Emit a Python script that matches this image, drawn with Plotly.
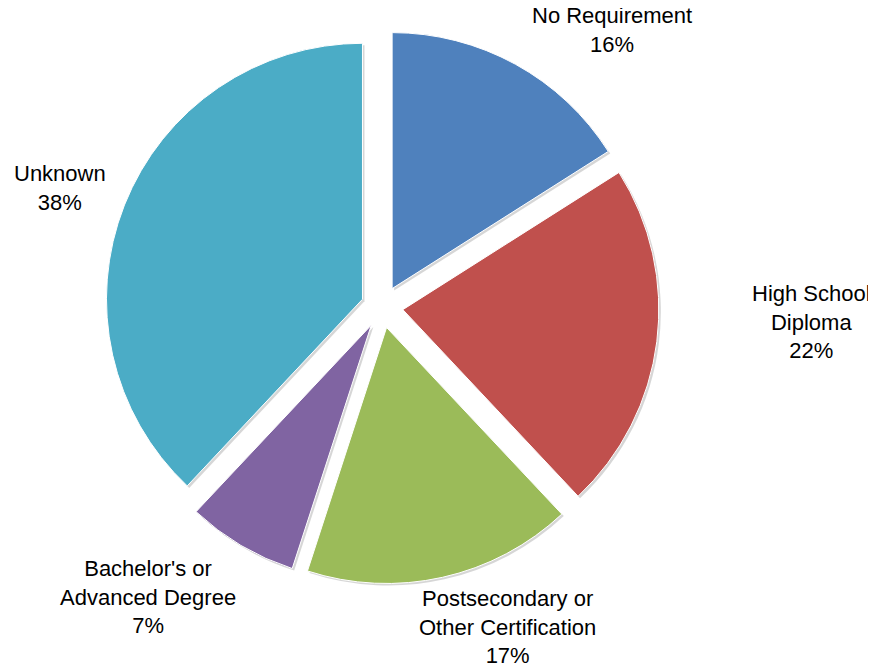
import plotly.graph_objects as go

# ---- data ----
categories = ["No Requirement", "High School Diploma", "Postsecondary or Other Certification",
              "Bachelor's or Advanced Degree", "Unknown"]
label_text = ["No Requirement", "High School<br>Diploma", "Postsecondary or<br>Other Certification",
              "Bachelor's or<br>Advanced Degree", "Unknown"]
values = [16, 22, 17, 7, 38]

# ---- style / layout ----
colors = ["#4F81BD", "#C0504D", "#9BBB59", "#8064A2", "#4BACC6"]
pull = 0.082
W, H = 876, 666
OFF = 8  # page body margin in the browser
cx, cy, half = 382 - OFF, 307 - OFF, 277  # pie centre and half-size of domain in px
# label centres in page pixels (layout)
label_px = [(612, 30), (811, 322), (507, 627), (148, 597), (60, 188)]

def dom(cx, cy):
    return dict(x=[(cx - half) / W, (cx + half) / W],
                y=[(H - cy - half) / H, (H - cy + half) / H])

fig = go.Figure()
# soft shadow
fig.add_trace(go.Pie(
    labels=categories, values=values, sort=False, direction="clockwise", rotation=0,
    pull=[pull] * len(values), domain=dom(cx + 2, cy + 2),
    marker=dict(colors=["rgba(0,0,0,0.16)"] * len(values), line=dict(width=0)),
    textinfo="none", hoverinfo="skip", showlegend=False,
))
fig.add_trace(go.Pie(
    labels=categories, values=values, sort=False, direction="clockwise", rotation=0,
    pull=[pull] * len(values), domain=dom(cx, cy),
    marker=dict(colors=colors, line=dict(color="white", width=1)),
    textinfo="none", showlegend=False,
))

total = sum(values)
for txt, v, (px, py) in zip(label_text, values, label_px):
    fig.add_annotation(
        x=(px - OFF) / W, y=1 - (py - OFF) / H, xref="paper", yref="paper",
        text=f"{txt}<br>{round(100 * v / total)}%",
        showarrow=False, xanchor="center", yanchor="middle",
        font=dict(family="Liberation Sans, Arial, sans-serif", size=22, color="black"),
    )

fig.update_layout(
    width=W, height=H, margin=dict(l=0, r=0, t=0, b=0),
    paper_bgcolor="white", plot_bgcolor="white",
)
fig.write_html("out.html")
